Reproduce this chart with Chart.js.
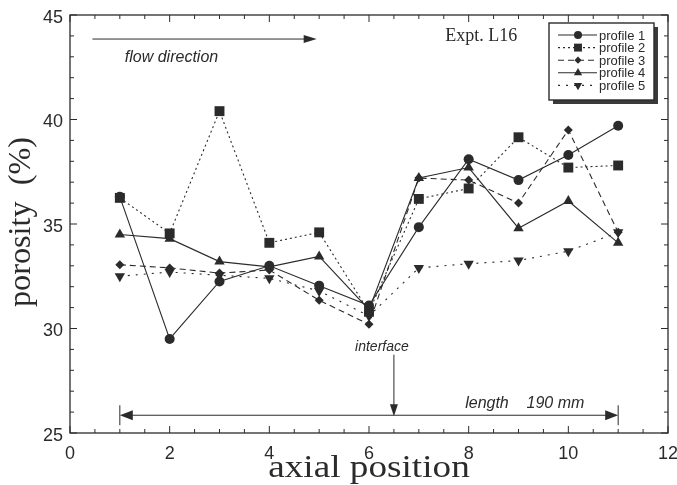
<!DOCTYPE html>
<html>
<head>
<meta charset="utf-8">
<script src="https://cdn.jsdelivr.net/npm/chart.js@4/dist/chart.umd.min.js"></script>
<style>
  html, body { margin: 0; padding: 0; background: #fff; }
  canvas { display: block; }
</style>
</head>
<body>
<canvas id="porosity-chart" width="677" height="485"></canvas>
<script>
// Porosity along the column, experiment L16
const positions = [1, 2, 3, 4, 5, 6, 7, 8, 9, 10, 11];
const profile1 = [36.3, 29.5, 32.25, 33.0, 32.05, 31.1, 34.85, 38.1, 37.1, 38.3, 39.7];
const profile2 = [36.25, 34.55, 40.4, 34.1, 34.6, 30.8, 36.2, 36.7, 39.15, 37.7, 37.8];
const profile3 = [33.05, 32.9, 32.65, 32.8, 31.35, 30.2, 37.2, 37.1, 36.0, 39.5, 34.6];
const profile4 = [34.5, 34.3, 33.2, 32.95, 33.45, 30.9, 37.2, 37.7, 34.8, 36.1, 34.1];
const profile5 = [32.5, 32.7, 32.55, 32.4, 31.8, 30.6, 32.9, 33.1, 33.25, 33.7, 34.6];

const profileNames = ['profile 1', 'profile 2', 'profile 3', 'profile 4', 'profile 5'];
const xTitle = 'axial position';
const yTitle = 'porosity  (%)';
const ink = '#2b2b2b';
const sans = 'Liberation Sans';
const serif = 'Liberation Serif';

function series(values) {
    return positions.map((x, i) => ({ x: x, y: values[i] }));
}

const styles = [
    { pointStyle: 'circle', radius: 5, rotation: 0, dash: [] },
    { pointStyle: 'rect', radius: 7, rotation: 0, dash: [2, 3] },
    { pointStyle: 'rectRot', radius: 4.5, rotation: 0, dash: [6, 4] },
    { pointStyle: 'triangle', radius: 6, rotation: 0, dash: [] },
    { pointStyle: 'triangle', radius: 6, rotation: 180, dash: [2, 6] },
];

const datasets = [profile1, profile2, profile3, profile4, profile5].map((vals, i) => ({
    label: profileNames[i],
    data: series(vals),
    borderColor: ink,
    backgroundColor: ink,
    borderWidth: 1.1,
    borderDash: styles[i].dash,
    pointStyle: styles[i].pointStyle,
    pointRadius: styles[i].radius,
    pointRotation: styles[i].rotation,
    pointBorderWidth: 0,
    tension: 0,
}));

function arrowHead(ctx, x, y, dir, len, half) {
    ctx.beginPath();
    if (dir === 'right') {
        ctx.moveTo(x, y); ctx.lineTo(x - len, y - half); ctx.lineTo(x - len, y + half);
    } else if (dir === 'left') {
        ctx.moveTo(x, y); ctx.lineTo(x + len, y - half); ctx.lineTo(x + len, y + half);
    } else {
        ctx.moveTo(x, y); ctx.lineTo(x - half, y - len); ctx.lineTo(x + half, y - len);
    }
    ctx.closePath();
    ctx.fill();
}

const decorations = {
    id: 'decorations',
    afterDatasetsDraw(chart) {
        const ctx = chart.ctx;
        const area = chart.chartArea;
        const xs = chart.scales.x;
        const ys = chart.scales.y;
        ctx.save();
        ctx.strokeStyle = ink;
        ctx.fillStyle = ink;
        ctx.setLineDash([]);

        // frame
        ctx.lineWidth = 1.3;
        ctx.strokeRect(area.left, area.top, area.right - area.left, area.bottom - area.top);

        // inward ticks
        ctx.lineWidth = 1;
        ctx.beginPath();
        for (let v = 0; v <= 12; v += 0.5) {
            const px = xs.getPixelForValue(v);
            const len = v % 2 === 0 ? 7 : 4;
            ctx.moveTo(px, area.bottom); ctx.lineTo(px, area.bottom - len);
            ctx.moveTo(px, area.top); ctx.lineTo(px, area.top + len);
        }
        for (let v = 25; v <= 45; v += 1) {
            const py = ys.getPixelForValue(v);
            const len = v % 5 === 0 ? 7 : 4;
            ctx.moveTo(area.left, py); ctx.lineTo(area.left + len, py);
            ctx.moveTo(area.right, py); ctx.lineTo(area.right - len, py);
        }
        ctx.stroke();

        // axis titles, slightly stretched like the original typesetting
        ctx.font = '31px "' + serif + '"';
        ctx.textAlign = 'center';
        ctx.textBaseline = 'alphabetic';
        ctx.save();
        ctx.translate((area.left + area.right) / 2, 477);
        ctx.scale(1.2, 1);
        ctx.fillText(xTitle, 0, 0);
        ctx.restore();
        ctx.save();
        ctx.translate(30, (area.top + area.bottom) / 2 - 2);
        ctx.rotate(-Math.PI / 2);
        ctx.scale(1.04, 1);
        ctx.fillText(yTitle, 0, 0);
        ctx.restore();

        // flow direction arrow
        const fy = ys.getPixelForValue(43.85);
        const fx0 = xs.getPixelForValue(0.45);
        const fx1 = xs.getPixelForValue(4.95);
        ctx.beginPath();
        ctx.moveTo(fx0, fy); ctx.lineTo(fx1 - 10, fy);
        ctx.stroke();
        arrowHead(ctx, fx1, fy, 'right', 13, 4);
        ctx.font = 'italic 16px "' + sans + '"';
        ctx.textBaseline = 'middle';
        ctx.textAlign = 'left';
        ctx.fillText('flow direction', xs.getPixelForValue(1.1), ys.getPixelForValue(42.95));

        // experiment label
        ctx.font = '18px "' + serif + '"';
        ctx.fillText('Expt. L16', xs.getPixelForValue(7.53), ys.getPixelForValue(43.98));

        // length arrow
        const ly = ys.getPixelForValue(25.85);
        const lx0 = xs.getPixelForValue(1);
        const lx1 = xs.getPixelForValue(11);
        ctx.beginPath();
        ctx.moveTo(lx0 + 10, ly); ctx.lineTo(lx1 - 10, ly);
        ctx.moveTo(lx0, ly - 10); ctx.lineTo(lx0, ly + 10);
        ctx.moveTo(lx1, ly - 10); ctx.lineTo(lx1, ly + 10);
        ctx.stroke();
        arrowHead(ctx, lx0, ly, 'left', 13, 5);
        arrowHead(ctx, lx1, ly, 'right', 13, 5);
        ctx.font = 'italic 16px "' + sans + '"';
        ctx.fillText('length    190 mm', xs.getPixelForValue(7.93), ys.getPixelForValue(26.4));

        // interface marker
        const ix = xs.getPixelForValue(6.5);
        const iy0 = ys.getPixelForValue(28.75);
        ctx.beginPath();
        ctx.moveTo(ix, iy0); ctx.lineTo(ix, ly - 10);
        ctx.stroke();
        arrowHead(ctx, ix, ly + 1, 'down', 12, 4);
        ctx.font = 'italic 14px "' + sans + '"';
        ctx.textAlign = 'center';
        ctx.fillText('interface', ix - 12, ys.getPixelForValue(29.1));

        // legend box with shadow
        const bx = 549, by = 23, bw = 105, bh = 77;
        ctx.fillStyle = '#3a3a3a';
        ctx.fillRect(bx + 4, by + 4, bw, bh);
        ctx.fillStyle = '#fff';
        ctx.fillRect(bx, by, bw, bh);
        ctx.lineWidth = 1.4;
        ctx.strokeRect(bx, by, bw, bh);
        ctx.fillStyle = ink;
        ctx.font = '13px "' + sans + '"';
        ctx.textAlign = 'left';
        styles.forEach((st, i) => {
            const ry = by + 12 + i * 12.6;
            ctx.lineWidth = 1.1;
            ctx.setLineDash(st.dash);
            ctx.beginPath();
            ctx.moveTo(bx + 9, ry); ctx.lineTo(bx + 48, ry);
            ctx.stroke();
            ctx.setLineDash([]);
            Chart.helpers.drawPoint(ctx, {
                pointStyle: st.pointStyle,
                radius: st.radius * 0.8,
                rotation: st.rotation,
                borderWidth: 0,
            }, bx + 29, ry);
            ctx.fillText(profileNames[i], bx + 50, ry + 1);
        });
        ctx.restore();
    }
};

new Chart(document.getElementById('porosity-chart'), {
    type: 'line',
    data: { datasets: datasets },
    options: {
        responsive: false,
        animation: false,
        layout: { padding: { top: 15, right: 9, left: 0, bottom: 0 } },
        plugins: {
            legend: { display: false },
            tooltip: { enabled: false },
        },
        scales: {
            x: {
                type: 'linear',
                min: 0,
                max: 12,
                grid: { display: false, drawTicks: false },
                border: { display: false },
                ticks: { stepSize: 2, padding: 10, color: ink, font: { family: sans, size: 18 } },
                afterFit(scale) {
                    scale.height = 52;
                    scale.paddingLeft = 0;
                    scale.paddingRight = 0;
                },
            },
            y: {
                min: 25,
                max: 45,
                grid: { display: false, drawTicks: false },
                border: { display: false },
                ticks: { stepSize: 5, padding: 7, labelOffset: 3, color: ink, font: { family: sans, size: 18 } },
                afterFit(scale) {
                    scale.width = 70;
                    scale.paddingTop = 0;
                    scale.paddingBottom = 0;
                },
            },
        },
    },
    plugins: [decorations],
});
</script>
</body>
</html>
